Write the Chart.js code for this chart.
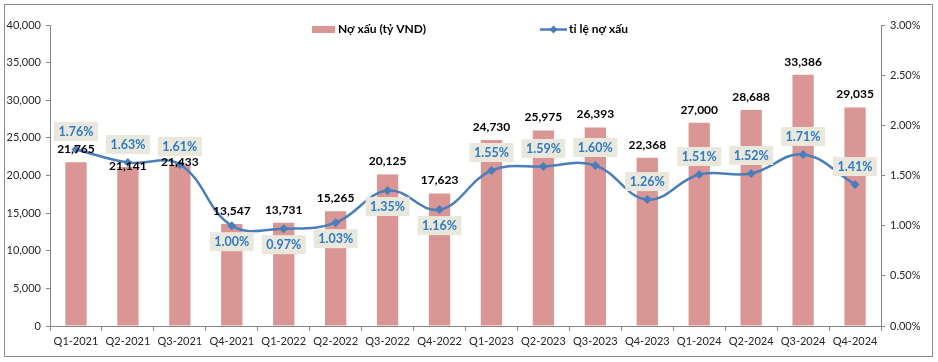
<!DOCTYPE html>
<html>
<head>
<meta charset="utf-8">
<script src="https://cdn.jsdelivr.net/npm/chart.js@4.4.1/dist/chart.umd.min.js"></script>
<style>
  html, body { margin: 0; padding: 0; background: #fff; }
  #wrap { position: relative; width: 938px; height: 362px; }
  #frame {
    position: absolute; left: 4px; top: 4px; width: 929px; height: 353px;
    box-sizing: border-box; border: 1px solid #8c8c8c; pointer-events: none;
  }
</style>
</head>
<body>
<div id="wrap">
  <canvas id="nplChart" width="938" height="362"></canvas>
  <div id="frame"></div>
</div>
<script>
// Chart data
const quarters = ['Q1-2021', 'Q2-2021', 'Q3-2021', 'Q4-2021', 'Q1-2022', 'Q2-2022', 'Q3-2022', 'Q4-2022',
  'Q1-2023', 'Q2-2023', 'Q3-2023', 'Q4-2023', 'Q1-2024', 'Q2-2024', 'Q3-2024', 'Q4-2024'];
const badDebt = [21765, 21141, 21433, 13547, 13731, 15265, 20125, 17623,
  24730, 25975, 26393, 22368, 27000, 28688, 33386, 29035];
const badDebtRatio = [1.76, 1.63, 1.61, 1.00, 0.97, 1.03, 1.35, 1.16,
  1.55, 1.59, 1.60, 1.26, 1.51, 1.52, 1.71, 1.41];
const seriesNames = ['Nợ xấu (tỷ VND)', 'tỉ lệ nợ xấu'];

// label placement tweaks (style only)
const ratioLabelBelow = [3, 4, 5, 6, 7];
const barLabelLift = { 1: 1, 2: 3 };

const FONT = 'Lato, "Noto Sans", sans-serif';
const BAR_COLOR = '#D99694';
const LINE_COLOR = '#4A7EBB';
const AXIS_COLOR = '#868686';
const TEXT_COLOR = '#262626';

// Draw value labels for bars and line
const valueLabels = {
  id: 'valueLabels',
  afterDatasetsDraw(chart) {
    const ctx = chart.ctx;
    const bars = chart.getDatasetMeta(0).data;
    const points = chart.getDatasetMeta(1).data;
    ctx.save();
    ctx.textAlign = 'center';
    ctx.textBaseline = 'middle';

    ctx.font = 'bold 12px ' + FONT;
    ctx.fillStyle = '#000';
    bars.forEach((bar, i) => {
      const lift = barLabelLift[i] !== undefined ? barLabelLift[i] : 13;
      ctx.fillText(badDebt[i].toLocaleString('en-US'), bar.x, bar.y - lift);
    });

    ctx.font = 'bold 12.5px ' + FONT;
    points.forEach((pt, i) => {
      const txt = badDebtRatio[i].toFixed(2) + '%';
      const cy = ratioLabelBelow.includes(i) ? pt.y + 16 : pt.y - 18;
      const w = ctx.measureText(txt).width + 9;
      ctx.fillStyle = '#EAE8DC';
      ctx.fillRect(pt.x - w / 2, cy - 9.5, w, 19);
      ctx.fillStyle = '#2E7BC4';
      ctx.fillText(txt, pt.x, cy + 0.5);
    });
    ctx.restore();
  }
};

// Legend drawn inside the plot, like the original
const topLegend = {
  id: 'topLegend',
  afterDraw(chart) {
    const ctx = chart.ctx;
    ctx.save();
    ctx.font = 'bold 12px ' + FONT;
    ctx.textBaseline = 'middle';
    ctx.fillStyle = BAR_COLOR;
    ctx.fillRect(312, 26, 23, 7);
    ctx.fillStyle = '#000';
    ctx.fillText(seriesNames[0], 338, 29.5);

    ctx.strokeStyle = LINE_COLOR;
    ctx.lineWidth = 2.5;
    ctx.beginPath();
    ctx.moveTo(540, 29.5);
    ctx.lineTo(567, 29.5);
    ctx.stroke();
    ctx.fillStyle = LINE_COLOR;
    ctx.beginPath();
    ctx.moveTo(553.5, 25.5);
    ctx.lineTo(557.5, 29.5);
    ctx.lineTo(553.5, 33.5);
    ctx.lineTo(549.5, 29.5);
    ctx.closePath();
    ctx.fill();
    ctx.fillStyle = '#000';
    ctx.fillText(seriesNames[1], 569, 29.5);
    ctx.restore();
  }
};

const tickFont = { family: FONT, size: 11 };

new Chart(document.getElementById('nplChart'), {
  type: 'bar',
  data: {
    labels: quarters,
    datasets: [
      {
        label: seriesNames[0],
        data: badDebt,
        backgroundColor: BAR_COLOR,
        borderWidth: 0,
        barPercentage: 0.41,
        categoryPercentage: 1,
        yAxisID: 'y',
        order: 1,
      },
      {
        type: 'line',
        label: seriesNames[1],
        data: badDebtRatio,
        borderColor: LINE_COLOR,
        backgroundColor: LINE_COLOR,
        borderWidth: 2.5,
        tension: 0.4,
        pointStyle: 'rectRot',
        pointRadius: 4.5,
        pointBackgroundColor: LINE_COLOR,
        pointBorderWidth: 0,
        yAxisID: 'y1',
        order: 0,
      },
    ],
  },
  options: {
    responsive: false,
    animation: false,
    layout: { padding: { top: 25, left: 0, right: 0, bottom: 0 } },
    plugins: {
      legend: { display: false },
      tooltip: { enabled: false },
    },
    scales: {
      x: {
        offset: true,
        grid: { display: true, drawOnChartArea: false, offset: true, tickLength: 5, color: AXIS_COLOR },
        border: { color: AXIS_COLOR },
        ticks: { color: TEXT_COLOR, font: tickFont, padding: 4, maxRotation: 0, autoSkip: false },
        afterFit: (s) => { s.height = 36; },
      },
      y: {
        position: 'left',
        min: 0,
        max: 40000,
        grid: { drawOnChartArea: false, tickLength: 4, color: AXIS_COLOR },
        border: { color: AXIS_COLOR },
        ticks: {
          stepSize: 5000,
          color: TEXT_COLOR,
          font: tickFont,
          padding: 5,
          callback: (v) => v.toLocaleString('en-US'),
        },
        afterFit: (s) => { s.width = 50; },
      },
      y1: {
        position: 'right',
        min: 0,
        max: 3,
        grid: { drawOnChartArea: false, tickLength: 4, color: AXIS_COLOR },
        border: { color: AXIS_COLOR },
        ticks: {
          stepSize: 0.5,
          color: TEXT_COLOR,
          font: tickFont,
          padding: 5,
          callback: (v) => v.toFixed(2) + '%',
        },
        afterFit: (s) => { s.width = 57; },
      },
    },
  },
  plugins: [valueLabels, topLegend],
});
</script>
</body>
</html>
